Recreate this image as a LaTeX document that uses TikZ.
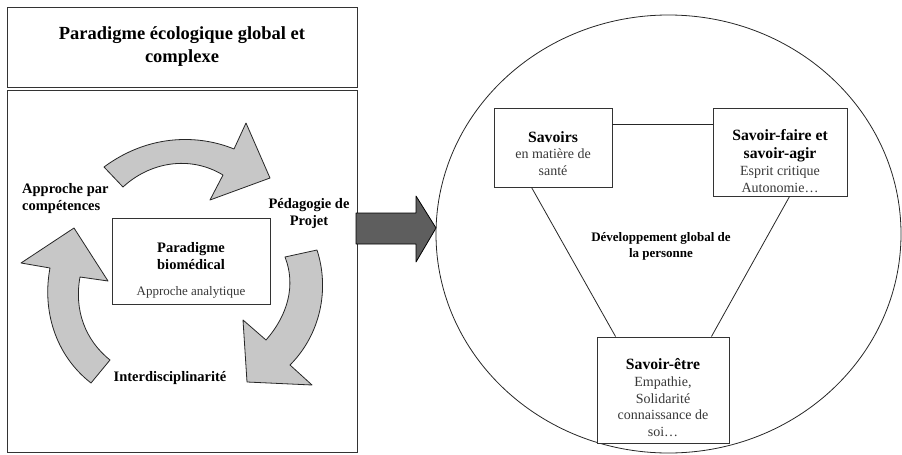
\documentclass[tikz,border=0pt]{standalone}
\usepackage{fontspec}
\setmainfont{Liberation Serif}
\usetikzlibrary{shapes.geometric}
\definecolor{arrowgray}{gray}{0.78}
\definecolor{bigarrowgray}{gray}{0.37}
\definecolor{textgray}{gray}{0.22}
\newcommand{\fsz}[2]{\fontsize{#1}{#2}\selectfont}
\begin{document}
\begin{tikzpicture}
[x=1pt, y=-1pt,
 every node/.style={inner sep=0pt, align=center},
 box/.style={rectangle, draw=black!80, line width=0.9pt, fill=white},
 cyclearrow/.style={fill=arrowgray, draw=black!85, line width=0.8pt, line join=round},
 lbl/.style={font=\bfseries\fsz{14.5}{17}},
 sub/.style={font=\fsz{14}{16.8}, text=textgray},
 link/.style={draw=black!85, line width=0.8pt}]
\useasboundingbox (0,0) rectangle (902,455);
\node [box, minimum width=350, minimum height=80, font=\bfseries\fsz{18.5}{23}] (title) at (182,47)
  {Paradigme écologique global et\\complexe};
\node [box, minimum width=350, minimum height=362] (frame) at (182,271) {};
\draw [cyclearrow] (104,167) .. controls (150,133) and (200,135) .. (234,149) -- (246,123) -- (270,178)
  -- (210,200) -- (223,175) .. controls (190,155) and (150,162) .. (123,187) -- cycle;
\draw [cyclearrow] (317,250) .. controls (330,290) and (320,335) .. (290,365) -- (312,385) -- (247,382)
  -- (243,320) -- (266,340) .. controls (288,315) and (296,285) .. (285,257) -- cycle;
\draw [cyclearrow] (91,383) .. controls (55,355) and (42,310) .. (50,268) -- (21,263) -- (74,228)
  -- (108,281) -- (80,277) .. controls (74,310) and (85,340) .. (110,360) -- cycle;
\node [box, minimum width=158, minimum height=86, font=\bfseries\fsz{14.5}{17}] (bio) at (191,261)
  {\rule{0pt}{29pt}Paradigme\\biomédical\\[9.5pt]{\mdseries\fsz{13}{15}\color{textgray}Approche analytique}};
\node [lbl, anchor=west, align=left] (apc) at (22,198.5) {Approche par\\compétences};
\node [lbl] (projet) at (309,213.5) {Pédagogie de\\Projet};
\node [lbl] (inter) at (170,378) {Interdisciplinarité};
\draw [fill=bigarrowgray, draw=black, line width=0.8pt, line join=round]
  (356,213) -- (416,213) -- (416,196) -- (436,228) -- (416,262) -- (416,244) -- (356,244) -- cycle;
\node [draw=black!85, line width=0.8pt, ellipse, minimum width=465, minimum height=438] (circ) at (668.5,234) {};
\node [box, sub, minimum width=118, minimum height=79, font=\fsz{14}{16.5}] (sav) at (553,147.5)
  {\rule{0pt}{22.5pt}{\bfseries\fsz{15.7}{18}\color{black}Savoirs}\\en matière de\\santé};
\node [box, sub, minimum width=134, minimum height=88, font=\fsz{14}{17.2}] (faire) at (780,152)
  {\rule{0pt}{29.5pt}{\bfseries\fsz{15.7}{18}\color{black}Savoir-faire et}\\{\bfseries\fsz{15.7}{18}\color{black}savoir-agir}\\Esprit critique\\Autonomie…};
\node [box, sub, minimum width=132, minimum height=106, font=\fsz{14}{16.7}] (etre) at (663,390)
  {\rule{0pt}{26.5pt}{\bfseries\fsz{15.7}{18}\color{black}Savoir-être}\\Empathie,\\Solidarité\\connaissance de\\soi…};
\node [font=\bfseries\fsz{13}{16}] (dev) at (661,246) {Développement global de\\la personne};
\draw [link] (sav.east |- 0,124) -- (faire.west |- 0,124);
\draw [link] ([xshift=38]sav.south west) -- ([xshift=19]etre.north west);
\draw [link] ([xshift=77]faire.south west) -- ([xshift=-18]etre.north east);
\end{tikzpicture}
\end{document}
